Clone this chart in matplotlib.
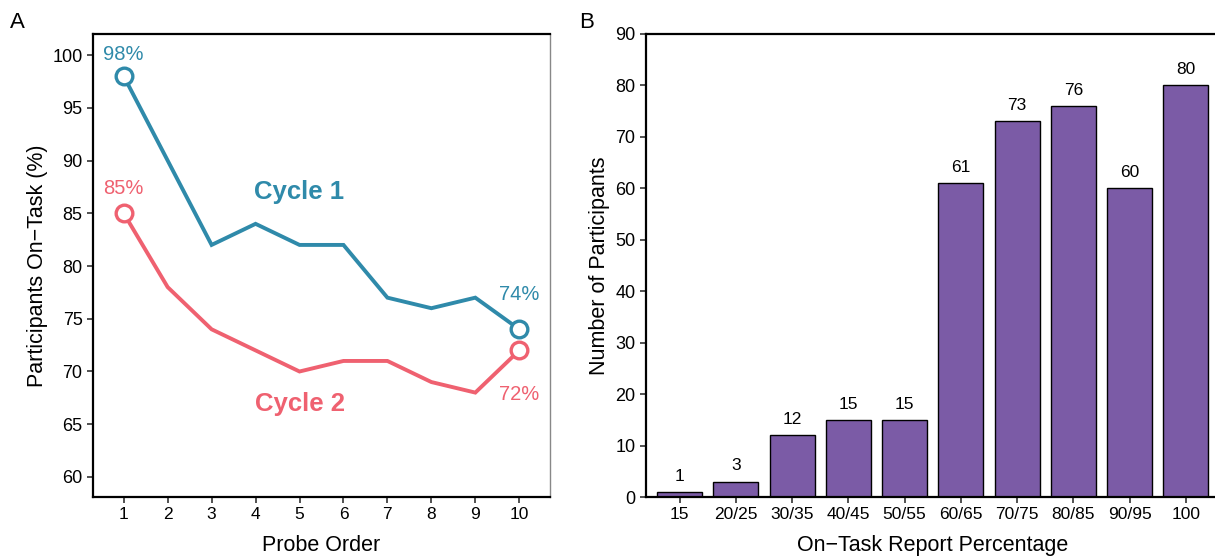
import numpy as np
import matplotlib
matplotlib.use("Agg")
import matplotlib.pyplot as plt

plt.rcParams['font.family'] = ['Liberation Sans', 'DejaVu Sans']

# Panel A: percentage of participants on-task at each probe
probe_order = [1, 2, 3, 4, 5, 6, 7, 8, 9, 10]
cycle1 = [98, 90, 82, 84, 82, 82, 77, 76, 77, 74]
cycle2 = [85, 78, 74, 72, 70, 71, 71, 69, 68, 72]

# Panel B: distribution of on-task report percentages
report_bins = ["15", "20/25", "30/35", "40/45", "50/55",
               "60/65", "70/75", "80/85", "90/95", "100"]
n_participants = [1, 3, 12, 15, 15, 61, 73, 76, 60, 80]

teal = "#2F8AAA"
red = "#EF6170"
purple = "#7B5BA6"

fig = plt.figure(figsize=(12.15, 5.57), dpi=100)
axA = fig.add_axes([0.0765, 0.1077, 0.3762, 0.8313])
axB = fig.add_axes([0.5317, 0.1077, 0.4720, 0.8313])

# ---- Panel A ----
for vals, col in [(cycle1, teal), (cycle2, red)]:
    axA.plot(probe_order, vals, color=col, lw=2.8, solid_joinstyle='miter', zorder=2)
    axA.plot([probe_order[0], probe_order[-1]], [vals[0], vals[-1]], 'o',
             ms=12, mfc='white', mec=col, mew=2.4, zorder=3)

# end-point percentage labels
axA.annotate(f"{cycle1[0]}%", (probe_order[0], cycle1[0]), xytext=(0, 9),
             textcoords='offset points', ha='center', va='bottom', color=teal, fontsize=14.5)
axA.annotate(f"{cycle2[0]}%", (probe_order[0], cycle2[0]), xytext=(0, 11),
             textcoords='offset points', ha='center', va='bottom', color=red, fontsize=14.5)
axA.annotate(f"{cycle1[-1]}%", (probe_order[-1], cycle1[-1]), xytext=(0, 18),
             textcoords='offset points', ha='center', va='bottom', color=teal, fontsize=14.5)
axA.annotate(f"{cycle2[-1]}%", (probe_order[-1], cycle2[-1]), xytext=(0, -25),
             textcoords='offset points', ha='center', va='top', color=red, fontsize=14.5)

axA.text(5.0, 87, "Cycle 1", color=teal, fontsize=18.5, fontweight='bold',
         ha='center', va='center')
axA.text(5.0, 66.9, "Cycle 2", color=red, fontsize=18.5, fontweight='bold',
         ha='center', va='center')

axA.set_xlim(0.3, 10.7)
axA.set_ylim(58.1, 102)
axA.set_xticks(probe_order)
axA.set_yticks(np.arange(60, 101, 5))
axA.set_xlabel("Probe Order", fontsize=15.5, labelpad=9)
axA.set_ylabel("Participants On\u2212Task (%)", fontsize=15.5, labelpad=3)
axA.tick_params(axis='x', labelsize=12.5, length=4, width=1.2, color='#333333')
axA.tick_params(axis='y', labelsize=13, length=4, width=1.2, color='#333333')
for side in ['left', 'bottom', 'top']:
    axA.spines[side].set_linewidth(1.6)
axA.spines['right'].set_linewidth(1.0)
axA.spines['right'].set_color('#888888')

# ---- Panel B ----
x = np.arange(1, len(report_bins) + 1)
bars = axB.bar(x, n_participants, width=0.8, color=purple, edgecolor='black', linewidth=1.0)
for xi, v in zip(x, n_participants):
    axB.annotate(str(v), (xi, v), xytext=(0, 6), textcoords='offset points',
                 ha='center', va='bottom', fontsize=12.5)

axB.set_xlim(0.4, 10.6)
axB.set_ylim(0, 90)
axB.set_xticks(x)
axB.set_xticklabels(report_bins)
axB.set_yticks(np.arange(0, 91, 10))
axB.set_xlabel("On\u2212Task Report Percentage", fontsize=15.5, labelpad=9)
axB.set_ylabel("Number of Participants", fontsize=15.5, labelpad=4)
axB.tick_params(axis='x', labelsize=12.5, length=4, width=1.2, color='#333333')
axB.tick_params(axis='y', labelsize=13, length=4, width=1.2, color='#333333')
for side in ['left', 'bottom', 'top', 'right']:
    axB.spines[side].set_linewidth(1.6)

# panel letters
fig.text(0.008, 0.960, "A", fontsize=16, ha='left', va='center')
fig.text(0.4765, 0.960, "B", fontsize=16, ha='left', va='center')

fig.savefig("out.png", dpi=100)
